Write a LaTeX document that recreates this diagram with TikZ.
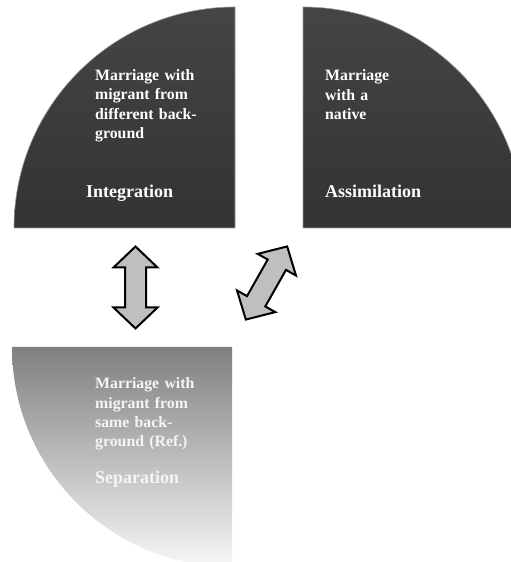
\documentclass[tikz,border=0pt]{standalone}
\usepackage{fontspec}
\setmainfont{Liberation Serif}
\begin{document}
\begin{tikzpicture}[x=1pt,y=1pt,
  darksector/.style={top color=black!73, bottom color=black!80, draw=black!40, line width=0.6pt},
  lightsector/.style={top color=black!50, bottom color=black!3, draw=none},
  smalltext/.style={anchor=base west, inner sep=0pt, text width=160pt, align=left,
    font=\fontsize{15.8}{19.3}\selectfont\bfseries},
  bigtext/.style={anchor=base west, inner sep=0pt, font=\fontsize{18}{22}\selectfont\bfseries},
  dblarrow/.style={fill=black!25, draw=black, line width=2pt, line join=miter}]
\useasboundingbox (0,0) rectangle (511,562);
\clip (0,0) rectangle (511,562);
% sectors
\path[darksector] (235,334) -- (14,334) arc[start angle=180, end angle=90, radius=221] -- cycle;
\path[darksector] (303,334) -- (524,334) arc[start angle=0, end angle=90, radius=221] -- cycle;
\path[lightsector] (232,215) -- (12,215) arc[start angle=180, end angle=270, radius=220] -- cycle;
% texts
\node[smalltext, text=white] (tltxt) at (95,481.5) {Marriage with\\migrant from\\different back-\\ground};
\node[bigtext, text=white] (tllab) at (86,364) {Integration};
\node[smalltext, text=white] (trtxt) at (325,481) {Marriage\\with a\\native};
\node[bigtext, text=white] (trlab) at (325,364) {Assimilation};
\node[smalltext, text=black!4] (bltxt) at (95,173) {Marriage with\\migrant from\\same back-\\ground (Ref.)};
\node[bigtext, text=black!4] (bllab) at (95,78) {Separation};
% arrows
\begin{scope}[shift={(135.5,274.5)}]
\path[dblarrow] (0,-41) -- (22,-20) -- (10.5,-20) -- (10.5,20) -- (22,20) -- (0,41)
  -- (-22,20) -- (-10.5,20) -- (-10.5,-20) -- (-22,-20) -- cycle;
\end{scope}
\begin{scope}[shift={(266.5,279)}, rotate=-29.5]
\path[dblarrow] (0,-42) -- (22,-21) -- (10.5,-21) -- (10.5,21) -- (22,21) -- (0,42)
  -- (-22,21) -- (-10.5,21) -- (-10.5,-21) -- (-22,-21) -- cycle;
\end{scope}
\end{tikzpicture}
\end{document}
